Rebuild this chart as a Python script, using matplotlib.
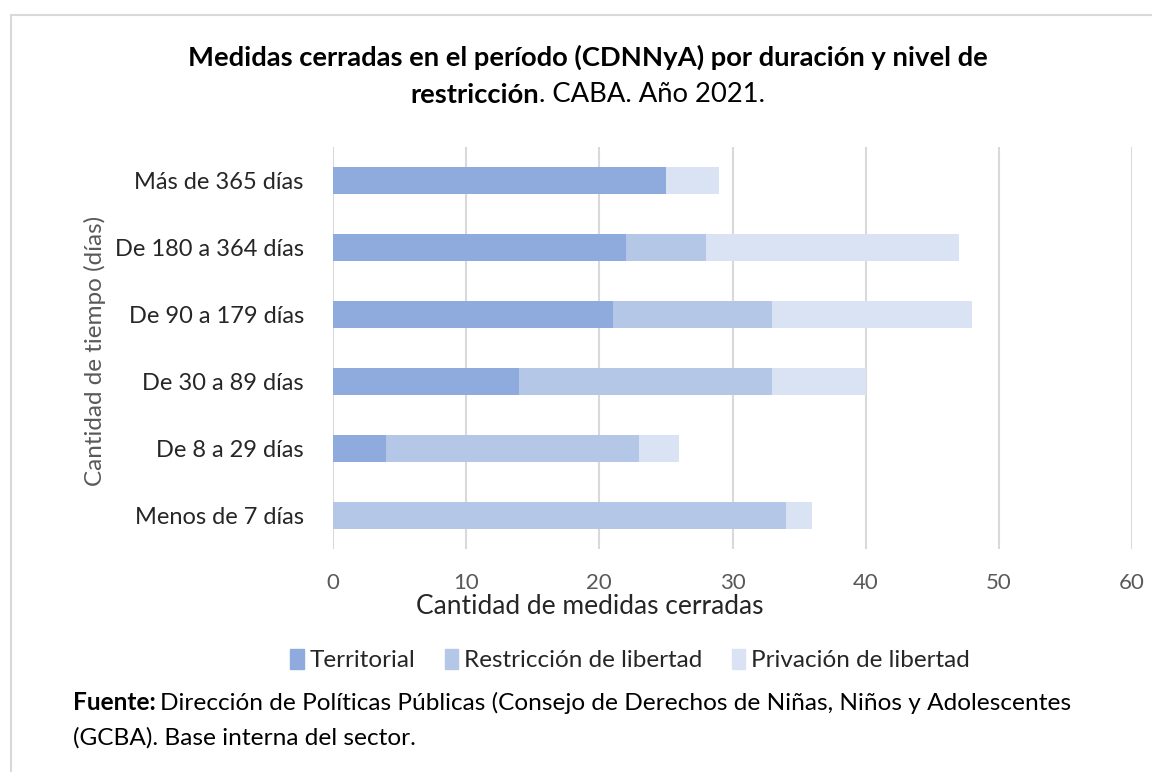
import matplotlib.pyplot as plt
from matplotlib.patches import Rectangle, Patch

plt.rcParams['font.family'] = ['Lato', 'DejaVu Sans']

categorias = ['Menos de 7 días', 'De 8 a 29 días', 'De 30 a 89 días',
              'De 90 a 179 días', 'De 180 a 364 días', 'Más de 365 días']
territorial = [0, 4, 14, 21, 22, 25]
restriccion = [34, 19, 19, 12, 6, 0]
privacion = [2, 3, 7, 15, 19, 4]
series = ['Territorial', 'Restricción de libertad', 'Privación de libertad']
colores = ['#8FAADC', '#B4C7E7', '#DAE3F3']

fig = plt.figure(figsize=(11.52, 7.72), dpi=100)
fig.patches.append(Rectangle((11 / 1152, -0.01), 1.2, 1 - 15 / 772 + 0.01,
                             transform=fig.transFigure, fill=False,
                             edgecolor='#D9D9D9', linewidth=1.5))

ax = fig.add_axes([333 / 1152, 1 - 549 / 772, (1132 - 333) / 1152, 402 / 772])

y = range(len(categorias))
left = [0] * len(categorias)
for vals, col, name in zip([territorial, restriccion, privacion], colores, series):
    ax.barh(y, vals, left=left, height=0.4, color=col, label=name, zorder=3)
    left = [a + b for a, b in zip(left, vals)]

ax.set_xlim(0, 60)
ax.set_ylim(-0.5, len(categorias) - 0.5)
ax.set_xticks(range(0, 61, 10))
ax.set_yticks(list(y))
ax.set_yticklabels(categorias, fontsize=17, color='#262626')
ax.tick_params(axis='x', labelsize=16, colors='#595959', length=0, pad=17)
ax.tick_params(axis='y', length=0, pad=21)
ax.grid(axis='x', color='#D9D9D9', linewidth=1.5, zorder=0)
for s in ax.spines.values():
    s.set_visible(False)

fig.text(590 / 1152, 1 - 607 / 772, 'Cantidad de medidas cerradas', fontsize=19,
         color='#262626', ha='center', va='center')
fig.text(95 / 1152, 1 - 351 / 772, 'Cantidad de tiempo (días)', rotation=90,
         fontsize=17.5, color='#595959', ha='center', va='center')

# title: bold line 1, mixed line 2
cx = 588
fig.text(cx / 1152, 1 - 57 / 772, 'Medidas cerradas en el período (CDNNyA) por duración y nivel de',
         fontsize=19.7, fontweight='bold', ha='center', va='center', color='black')
fig.canvas.draw()
r = fig.canvas.get_renderer()
t1 = fig.text(0, 1 - 95 / 772, 'restricción', fontsize=19.7, fontweight='bold',
              ha='left', va='center', color='black')
t2 = fig.text(0, 1 - 95 / 772, '. CABA. Año 2021.', fontsize=19.7,
              ha='left', va='center', color='black')
w1 = t1.get_window_extent(r).width
w2 = t2.get_window_extent(r).width
x0 = cx - (w1 + w2) / 2
t1.set_x(x0 / 1152)
t2.set_x((x0 + w1) / 1152)

handles = [Patch(color=c, label=n) for c, n in zip(colores, series)]
fig.legend(handles=handles, loc='center', bbox_to_anchor=(630 / 1152, 1 - 660 / 772),
           ncol=3, frameon=False, fontsize=17.5, handlelength=0.55, handleheight=0.9,
           handletextpad=0.25, columnspacing=1.2, labelcolor='#262626')

# source
fig.canvas.draw()
f1 = fig.text(73 / 1152, 1 - 703 / 772, 'Fuente:', fontsize=17.6, fontweight='bold',
              ha='left', va='center', color='black')
wf = f1.get_window_extent(r).width
fig.text((73 + wf + 4) / 1152, 1 - 703 / 772,
         'Dirección de Políticas Públicas (Consejo de Derechos de Niñas, Niños y Adolescentes',
         fontsize=17.6, ha='left', va='center', color='black')
fig.text(73 / 1152, 1 - 738 / 772, '(GCBA). Base interna del sector.',
         fontsize=17.6, ha='left', va='center', color='black')

fig.savefig('out.png', dpi=100)
